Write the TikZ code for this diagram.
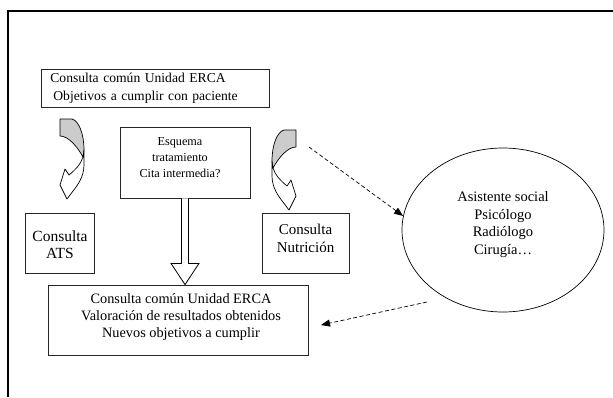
\documentclass[tikz,border=0pt]{standalone}
\usepackage{fontspec}
\setmainfont{Liberation Serif}
\usetikzlibrary{shapes.geometric,arrows.meta,calc}
\newcommand{\fsz}[2]{\fontsize{#1}{#2}\selectfont}
\begin{document}
\begin{tikzpicture}[x=1pt,y=-1pt,
  box/.style={draw=black!85,line width=0.8pt,inner sep=0pt},
  txt/.style={align=center,inner sep=0pt},
  dasharrow/.style={dashed,dash pattern=on 4pt off 2.5pt,line width=0.7pt,-{Triangle[length=9pt,width=7pt]}},
  bent/.style={draw=black,line width=0.7pt,line join=round}]
\useasboundingbox[fill=white] (0,0) rectangle (613,397);
% frame
\draw[line width=2pt] (8,397) -- (8,11) -- (613,11);
% top box
\node[box,anchor=north west,minimum width=222pt,minimum height=38pt,text width=210pt,inner xsep=9pt,align=left,font=\fsz{13.6}{18}] (top) at (41,69)
  {Consulta común Unidad ERCA\\\hspace*{3pt}Objetivos a cumplir con paciente};
% esquema box
\node[box,minimum width=130pt,minimum height=71pt] (esq) at (185,162.5) {};
\node[txt,font=\fsz{12.2}{16}] (esqt) at (180,157.5) {Esquema\\tratamiento\\Cita intermedia?};
% ATS box
\node[box,minimum width=69pt,minimum height=60pt] (ats) at (59.5,243) {};
\node[txt,font=\fsz{15.5}{17.5}] (atst) at (60,244.5) {Consulta\\ATS};
% nutricion box
\node[box,minimum width=87pt,minimum height=60pt] (nut) at (305.5,243) {};
\node[txt,font=\fsz{15}{18}] (nutt) at (305.5,238) {Consulta\\Nutrición};
% bottom box
\node[box,minimum width=260pt,minimum height=70pt] (bot) at (178,320) {};
\node[txt,font=\fsz{14.3}{16.8}] (bott) at (181,317) {Consulta común Unidad ERCA\\Valoración de resultados obtenidos\\Nuevos objetivos a cumplir};
% ellipse
\node[draw=black,line width=0.7pt,ellipse,minimum width=202pt,minimum height=164pt,inner sep=0pt] (ell) at (503,230) {};
\node[txt,font=\fsz{14.5}{17.6}] (ellt) at (503,224.5) {Asistente social\\Psicólogo\\Radiólogo\\Cirugía…};
% hollow block arrow
\draw[line width=0.8pt,fill=white,line join=miter]
  ($(esq.south)+(-3.5,0)$) -- ($(esq.south)+(-3.5,65)$) -- ($(esq.south)+(-14,65)$)
  -- (esq.south |- bot.north) -- ($(esq.south)+(14,65)$) -- ($(esq.south)+(3.5,65)$)
  -- ($(esq.south)+(3.5,0)$);
% curved arrows
\begin{scope}[shift={(59,119)}]
  \draw[bent,fill=gray!40] (1,0) -- (13,0) .. controls (20,2) and (25,15) .. (25,31) -- (24,38)
     .. controls (18,27) and (9,17) .. (1,17) -- cycle;
  \draw[bent,fill=white] (25,31) -- (25,46) .. controls (25,58) and (18,67) .. (14,72)
     -- (8,80) -- (1,66) -- (6,50) -- (10,56) .. controls (16,51) and (22,45) .. (24,38) -- cycle;
\end{scope}
\begin{scope}[shift={(297,130)},xscale=-1]
  \draw[bent,fill=gray!40] (1,0) -- (13,0) .. controls (20,2) and (25,15) .. (25,31) -- (24,38)
     .. controls (18,27) and (9,17) .. (1,17) -- cycle;
  \draw[bent,fill=white] (25,31) -- (25,46) .. controls (25,58) and (18,67) .. (14,72)
     -- (8,80) -- (1,66) -- (6,50) -- (10,56) .. controls (16,51) and (22,45) .. (24,38) -- cycle;
\end{scope}
% dashed arrows
\coordinate (d1) at (309,147);
\coordinate (d2) at (427,302);
\coordinate (d2e) at (321,325);
\draw[dasharrow] (d1) -- (ell.172);
\draw[dasharrow] (d2) -- (d2e);
\end{tikzpicture}
\end{document}
